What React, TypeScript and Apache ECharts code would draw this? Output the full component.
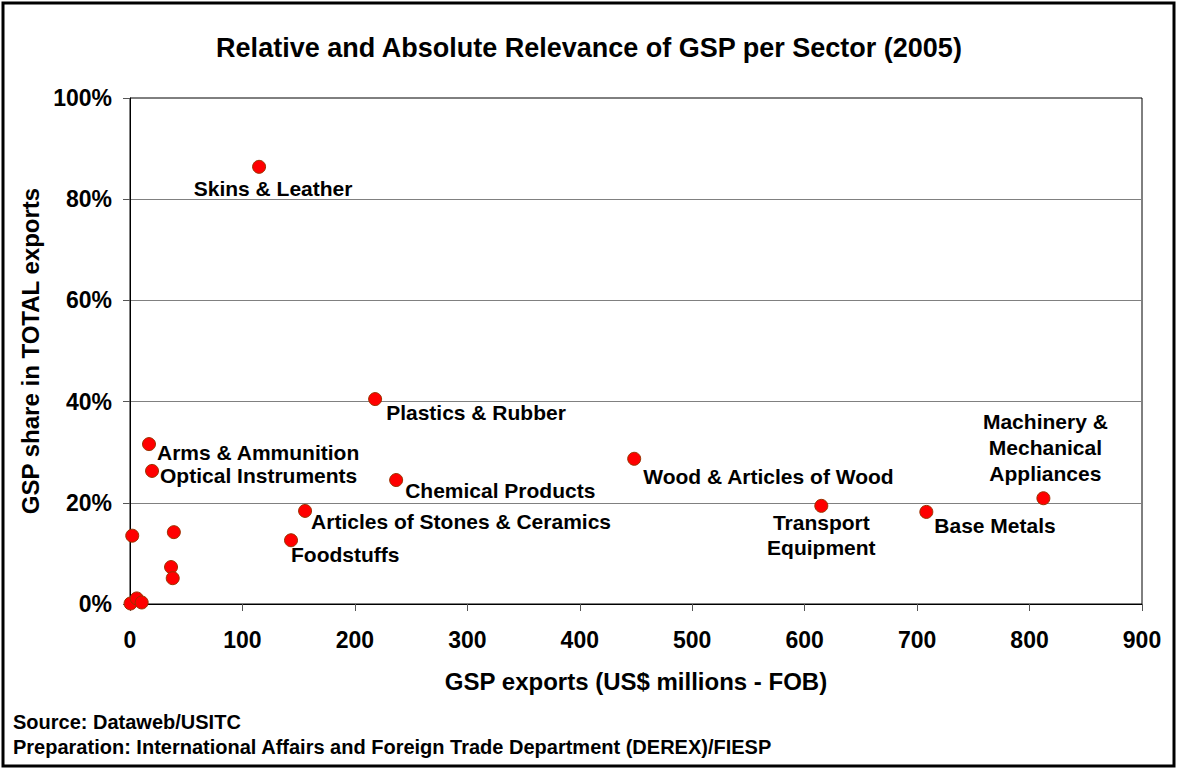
import React, { useEffect, useRef } from "react";
import * as echarts from "echarts";

const sectorNames = [
  "Skins & Leather",
  "Plastics & Rubber",
  "Arms & Ammunition",
  "Optical Instruments",
  "Chemical Products",
  "Wood & Articles of Wood",
  "Transport\nEquipment",
  "Base Metals",
  "Machinery &\nMechanical\nAppliances",
  "Articles of Stones & Ceramics",
  "Foodstuffs",
  "",
  "",
  "",
  "",
  "",
  "",
  "",
];
const gspExports = [114.8, 218, 16.9, 19.6, 236.7, 448.4, 614.8, 708.2, 812.3, 155.7, 143.2, 2, 39, 36.5, 38, 0.5, 6, 10.4];
const gspShare = [86.4, 40.5, 31.6, 26.3, 24.5, 28.7, 19.4, 18.2, 20.9, 18.4, 12.6, 13.5, 14.2, 7.3, 5.1, 0.1, 1.1, 0.3];

const xTicks = [0, 100, 200, 300, 400, 500, 600, 700, 800, 900];
const yTicks = [0, 20, 40, 60, 80, 100];

// label placement styles (align, offset, lineHeight) keyed by sector name
const labelStyles: Record<string, { align: string; offset: number[]; lineHeight?: number }> = {
  "Skins & Leather": { align: "center", offset: [14, 22] },
  "Plastics & Rubber": { align: "left", offset: [11, 13] },
  "Arms & Ammunition": { align: "left", offset: [8, 8] },
  "Optical Instruments": { align: "left", offset: [8, 5] },
  "Chemical Products": { align: "left", offset: [9, 10] },
  "Wood & Articles of Wood": { align: "left", offset: [9, 18] },
  "Transport\nEquipment": { align: "center", offset: [0, 29], lineHeight: 25 },
  "Base Metals": { align: "left", offset: [8, 14] },
  "Machinery &\nMechanical\nAppliances": { align: "center", offset: [2, -51], lineHeight: 26 },
  "Articles of Stones & Ceramics": { align: "left", offset: [6, 11] },
  "Foodstuffs": { align: "left", offset: [0, 14] },
};

const FONT = "'Liberation Sans', Arial, sans-serif";

export default function App() {
  const ref = useRef<HTMLDivElement>(null);
  useEffect(() => {
    document.body.style.margin = "0";
    if (!ref.current) return;
    const chart = echarts.init(ref.current, null, { renderer: "svg" });
    const data = sectorNames.map((name, i) => {
      const ls = labelStyles[name];
      const item: any = { name, value: [gspExports[i], gspShare[i]] };
      if (ls) {
        item.label = {
          show: true,
          position: ["50%", "50%"],
          align: ls.align,
          verticalAlign: "middle",
          offset: ls.offset,
          lineHeight: ls.lineHeight ?? 24,
          formatter: name,
        };
      }
      return item;
    });
    chart.setOption({
      animation: false,
      backgroundColor: "#ffffff",
      textStyle: { fontFamily: FONT },
      title: {
        text: "Relative and Absolute Relevance of GSP per Sector (2005)",
        left: "center",
        top: 34,
        padding: 0,
        textStyle: { fontFamily: FONT, fontWeight: "bold", fontSize: 27, color: "#000" },
      },
      grid: {
        left: 130,
        right: 36,
        top: 98,
        bottom: 166,
        show: true,
        borderColor: "#000",
        borderWidth: 1,
        backgroundColor: "transparent",
      },
      xAxis: {
        type: "value",
        min: xTicks[0],
        max: xTicks[xTicks.length - 1],
        interval: 100,
        name: "GSP exports (US$ millions - FOB)",
        nameLocation: "middle",
        nameGap: 65,
        nameTextStyle: { fontFamily: FONT, fontWeight: "bold", fontSize: 24, color: "#000" },
        axisLine: { show: true, lineStyle: { color: "#000", width: 1 } },
        axisTick: { show: true, inside: false, length: 7, lineStyle: { color: "#555" } },
        axisLabel: { margin: 24, fontFamily: FONT, fontWeight: "bold", fontSize: 23, color: "#000" },
        splitLine: { show: false },
      },
      yAxis: {
        type: "value",
        min: yTicks[0],
        max: yTicks[yTicks.length - 1],
        interval: 20,
        name: "GSP share in TOTAL exports",
        nameLocation: "middle",
        nameGap: 87,
        nameRotate: 90,
        nameTextStyle: { fontFamily: FONT, fontWeight: "bold", fontSize: 24, color: "#000" },
        axisLine: { show: true, lineStyle: { color: "#000", width: 1 } },
        axisTick: { show: true, inside: false, length: 7, lineStyle: { color: "#555" } },
        axisLabel: {
          margin: 18,
          fontFamily: FONT,
          fontWeight: "bold",
          fontSize: 23,
          color: "#000",
          formatter: "{value}%",
        },
        splitLine: { show: true, showMinLine: false, showMaxLine: false, lineStyle: { color: "#808080", width: 1 } },
      },
      series: [
        {
          type: "scatter",
          symbol: "circle",
          symbolSize: 13,
          itemStyle: { color: "#ff0000", borderColor: "#993300", borderWidth: 1, opacity: 1 },
          label: {
            show: false,
            fontFamily: FONT,
            fontWeight: "bold",
            fontSize: 21,
            color: "#000",
          },
          emphasis: { disabled: true },
          data,
        },
      ],
      graphic: [
        {
          type: "rect",
          shape: { x: 3, y: 3, width: 1171, height: 763 },
          style: { fill: "none", stroke: "#000", lineWidth: 3 },
          silent: true,
        },
        {
          type: "text",
          left: 13,
          top: 712,
          style: { text: "Source: Dataweb/USITC", font: `bold 20px ${FONT}`, fill: "#000" },
        },
        {
          type: "text",
          left: 13,
          top: 737,
          style: {
            text: "Preparation: International Affairs and Foreign Trade Department (DEREX)/FIESP",
            font: `bold 20px ${FONT}`,
            fill: "#000",
          },
        },
      ],
    });
    return () => chart.dispose();
  }, []);
  return <div ref={ref} style={{ width: 1178, height: 770 }} />;
}
